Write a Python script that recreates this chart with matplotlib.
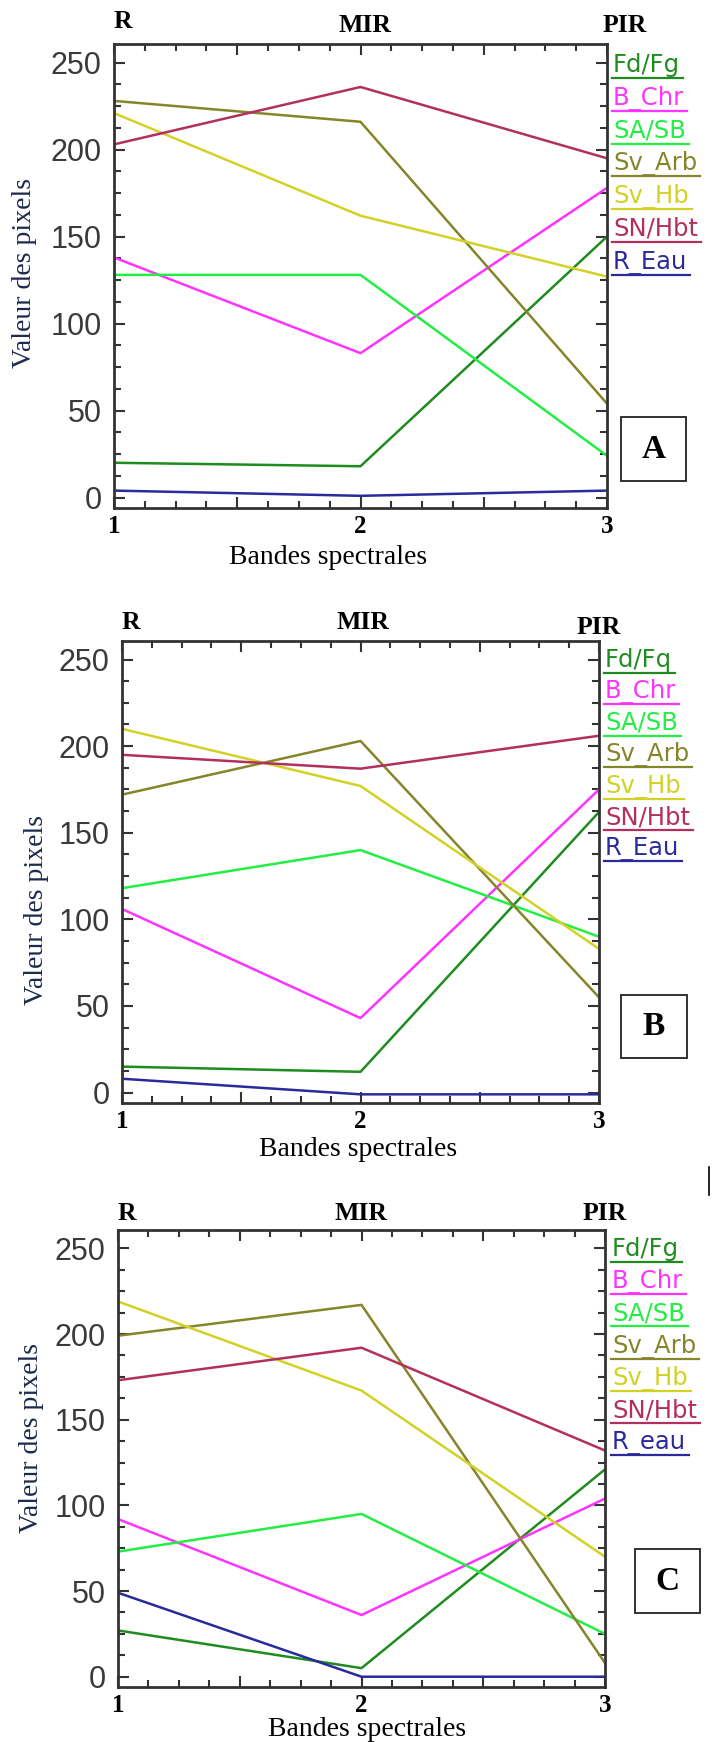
import numpy as np
import matplotlib
matplotlib.use('Agg')
import matplotlib.pyplot as plt
from matplotlib.ticker import MultipleLocator, FuncFormatter
from matplotlib.patches import Rectangle
from matplotlib.lines import Line2D

# bandes spectrales (x)
bands = [1, 2, 3]
band_names = ["R", "MIR", "PIR"]

# legend labels for each panel
labels_A = ["Fd/Fg", "B_Chr", "SA/SB", "Sv_Arb", "Sv_Hb", "SN/Hbt", "R_Eau"]
labels_B = ["Fd/Fq", "B_Chr", "SA/SB", "Sv_Arb", "Sv_Hb", "SN/Hbt", "R_Eau"]
labels_C = ["Fd/Fg", "B_Chr", "SA/SB", "Sv_Arb", "Sv_Hb", "SN/Hbt", "R_eau"]

# panel A values (R, MIR, PIR)
fd_fg_A = [20, 18, 150]
b_chr_A = [138, 83, 178]
sa_sb_A = [128, 128, 24]
sv_arb_A = [228, 216, 54]
sv_hb_A = [221, 162, 127]
sn_hbt_A = [203, 236, 195]
r_eau_A = [4, 1, 4]

# panel B values
fd_fg_B = [15, 12, 162]
b_chr_B = [106, 43, 175]
sa_sb_B = [118, 140, 90]
sv_arb_B = [172, 203, 55]
sv_hb_B = [210, 177, 83]
sn_hbt_B = [195, 187, 206]
r_eau_B = [8, -1, -1]

# panel C values
fd_fg_C = [27, 5, 121]
b_chr_C = [92, 36, 104]
sa_sb_C = [73, 95, 25]
sv_arb_C = [199, 217, 8]
sv_hb_C = [219, 167, 70]
sn_hbt_C = [173, 192, 132]
r_eau_C = [49, 0, 0]

colors = ["#1f8c1f", "#ff33ff", "#22ee44", "#85852a", "#d2d226", "#b3305e", "#2a2a9c"]

W, H = 717, 1742
fig = plt.figure(figsize=(W / 100, H / 100), dpi=100)
fig.patch.set_facecolor("white")

SERIF = "Liberation Serif"


def fx(x):
    return x / W


def fy(y):
    return 1 - y / H


panels = [
    # axes box (l, t, r, b) in px, legend (x, first underline y, step),
    # letter box (l, t, r, b), ylabel / xlabel centres, band-name heights
    dict(letter="A", series=[fd_fg_A, b_chr_A, sa_sb_A, sv_arb_A, sv_hb_A, sn_hbt_A, r_eau_A],
         labels=labels_A, box=(114, 44, 607, 508), leg=(613, 78, 32.8),
         lbox=(621, 417, 686, 481), ylab=(25, 273), xlab=(328, 558),
         top=(22, 26, 26), pir=1.035, mir=0.51),
    dict(letter="B", series=[fd_fg_B, b_chr_B, sa_sb_B, sv_arb_B, sv_hb_B, sn_hbt_B, r_eau_B],
         labels=labels_B, box=(122, 641, 599, 1103), leg=(605, 673, 31.4),
         lbox=(621, 995, 687, 1058), ylab=(37, 910), xlab=(358, 1149),
         top=(622, 622, 627), pir=1.0, mir=0.505),
    dict(letter="C", series=[fd_fg_C, b_chr_C, sa_sb_C, sv_arb_C, sv_hb_C, sn_hbt_C, r_eau_C],
         labels=labels_C, box=(118, 1230, 605, 1687), leg=(612, 1262, 32.2),
         lbox=(635, 1549, 700, 1613), ylab=(32, 1438), xlab=(367, 1729),
         top=(1214, 1214, 1214), pir=1.0, mir=0.5),
]

legend_texts = []

for p in panels:
    l, t, r, b = p["box"]
    ax = fig.add_axes([fx(l), fy(b), (r - l) / W, (b - t) / H])
    for vals, c in zip(p["series"], colors):
        ax.plot(bands, vals, color=c, lw=1.8)
    ax.set_xlim(1, 3)
    ax.set_ylim(-6, 260.7)
    ax.xaxis.set_major_locator(MultipleLocator(0.5))
    ax.xaxis.set_minor_locator(MultipleLocator(0.125))
    ax.yaxis.set_major_locator(MultipleLocator(50))
    ax.yaxis.set_minor_locator(MultipleLocator(12.5))
    ax.xaxis.set_major_formatter(FuncFormatter(lambda v, pos: f"{int(v)}" if abs(v - round(v)) < 1e-6 else ""))
    ax.tick_params(which="both", direction="in", top=True, right=True, colors="#333333")
    ax.tick_params(which="major", length=8, width=1.5)
    ax.tick_params(which="minor", length=5, width=1.5)
    ax.tick_params(axis="y", labelsize=22, labelcolor="#3a3a3a", pad=9)
    ax.tick_params(axis="x", labelsize=18, labelcolor="black", pad=5)
    for lab in ax.get_yticklabels():
        lab.set_family("Liberation Sans")
    for lab in ax.get_xticklabels():
        lab.set_family(SERIF)
        lab.set_fontweight("bold")
    for s in ax.spines.values():
        s.set_color("#333333")
        s.set_linewidth(2)

    # band names above the plot
    fig.text(fx(l), fy(p["top"][0]), band_names[0], ha="left", va="center",
             fontsize=18.5, fontweight="bold", family=SERIF)
    fig.text(fx(l + p["mir"] * (r - l)), fy(p["top"][1]), band_names[1], ha="center", va="center",
             fontsize=18.5, fontweight="bold", family=SERIF)
    fig.text(fx(l + p["pir"] * (r - l)), fy(p["top"][2]), band_names[2], ha="center", va="center",
             fontsize=18.5, fontweight="bold", family=SERIF)

    # axis titles
    fig.text(fx(p["ylab"][0]), fy(p["ylab"][1]), "Valeur des pixels", rotation=90,
             ha="center", va="center", fontsize=20, family=SERIF, color="#1c2a4c")
    fig.text(fx(p["xlab"][0]), fy(p["xlab"][1]), "Bandes spectrales",
             ha="center", va="center", fontsize=20, family=SERIF, color="black")

    # legend (coloured text with underline)
    lx, ly, step = p["leg"]
    for i, (name, c) in enumerate(zip(p["labels"], colors)):
        uy = ly + i * step
        txt = fig.text(fx(lx), fy(uy - 6), name, ha="left", va="baseline",
                       fontsize=17.5, color=c, family="DejaVu Sans")
        legend_texts.append((txt, uy, c))

    # panel letter box
    bl, bt, br, bb = p["lbox"]
    fig.add_artist(Rectangle((fx(bl), fy(bb)), (br - bl) / W, (bb - bt) / H,
                             transform=fig.transFigure, fill=False, edgecolor="#222222", lw=1.3))
    fig.text(fx((bl + br) / 2), fy((bt + bb) / 2), p["letter"], ha="center", va="center",
             fontsize=24, fontweight="bold", family=SERIF)

# stray mark at right of panel B
fig.add_artist(Line2D([fx(709), fx(709)], [fy(1167), fy(1195)], transform=fig.transFigure,
                      color="black", lw=1.2))

# underline under each legend entry
fig.canvas.draw()
renderer = fig.canvas.get_renderer()
for txt, uy, c in legend_texts:
    bb = txt.get_window_extent(renderer)
    fig.add_artist(Line2D([bb.x0 / W - 1 / W, bb.x1 / W + 3 / W], [fy(uy), fy(uy)],
                          transform=fig.transFigure, color=c, lw=1.6))

fig.savefig("out.png", dpi=100, facecolor="white")
